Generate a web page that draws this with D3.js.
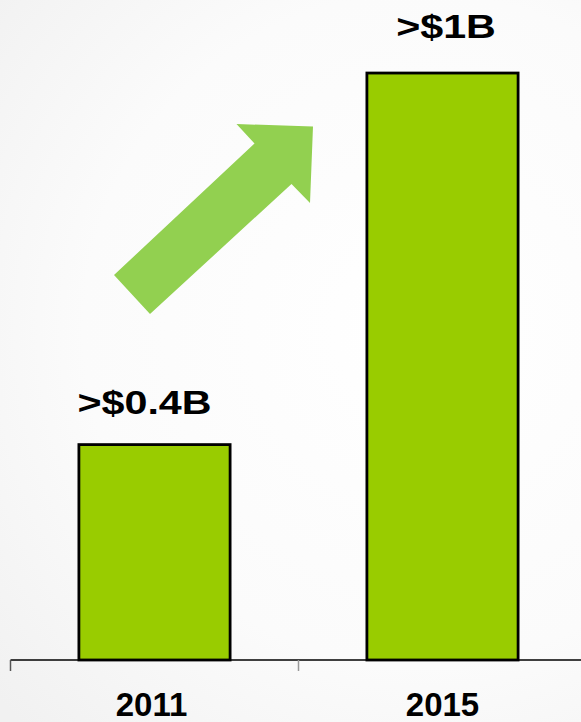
<!DOCTYPE html>
<html>
<head>
<meta charset="utf-8">
<script src="https://cdn.jsdelivr.net/npm/d3@7"></script>
<style>
  html, body { margin: 0; padding: 0; background: #f7f7f7; }
  svg { display: block; }
</style>
</head>
<body>
<div class="container"></div>
<script>
// chart data
const years = ['2011', '2015'];
const revenue = [0.4, 1.09];          // billions of dollars
const valueLabels = ['>$0.4B', '>$1B'];

const width = 581;
const height = 722;
const axisY = 660;

const svg = d3.select('.container').append('svg')
  .attr('width', width)
  .attr('height', height);

// soft background glow
const defs = svg.append('defs');
const grad = defs.append('radialGradient')
  .attr('id', 'bg')
  .attr('gradientUnits', 'userSpaceOnUse')
  .attr('cx', 420).attr('cy', 330).attr('r', 560);
grad.append('stop').attr('offset', '0%').attr('stop-color', '#ffffff');
grad.append('stop').attr('offset', '60%').attr('stop-color', '#fbfbfb');
grad.append('stop').attr('offset', '100%').attr('stop-color', '#f1f1f1');
svg.append('rect')
  .attr('width', width)
  .attr('height', height)
  .attr('fill', 'url(#bg)');

// scales
const x = d3.scaleBand()
  .domain(years)
  .range([10.5, 586.5])
  .padding(0);

const y = d3.scaleLinear()
  .domain([0, 1.2])
  .range([axisY, axisY - 1.2 * 538.5]);

const barW = x.bandwidth() * 0.525;

// growth arrow (decoration)
svg.append('polygon')
  .attr('points', [
    [114, 275], [254.5, 143.5], [236.5, 124], [313, 126.5],
    [310, 203], [291.5, 184], [150, 314]
  ].map(p => p.join(',')).join(' '))
  .attr('fill', '#92d050');

// bars
svg.selectAll('.bar')
  .data(years)
  .enter().append('rect')
  .attr('class', 'bar')
  .attr('x', (d) => x(d) + (x.bandwidth() - barW) / 2)
  .attr('y', (d, i) => y(revenue[i]))
  .attr('width', barW)
  .attr('height', (d, i) => axisY - y(revenue[i]))
  .attr('fill', '#99cc00')
  .attr('stroke', '#000')
  .attr('stroke-width', 2.8);

// value labels above bars
const labelDx = [-10, 3.5];
const labelGap = [31, 35];
svg.selectAll('.value')
  .data(years)
  .enter().append('text')
  .attr('class', 'value')
  .attr('transform', (d, i) => {
    const cx = x(d) + x.bandwidth() / 2 + labelDx[i];
    const cy = y(revenue[i]) - labelGap[i];
    return `translate(${cx},${cy}) scale(1.25,1)`;
  })
  .attr('text-anchor', 'middle')
  .style('font-family', '"Liberation Sans", Arial, sans-serif')
  .style('font-weight', 'bold')
  .style('font-size', '33px')
  .attr('fill', '#000')
  .text((d, i) => valueLabels[i]);

// x axis: line with ticks at category boundaries
svg.append('line')
  .attr('x1', x.range()[0])
  .attr('x2', width)
  .attr('y1', axisY)
  .attr('y2', axisY)
  .attr('stroke', '#000')
  .attr('stroke-width', 1.5);

const tickXs = years.map(d => x(d));
svg.selectAll('.tick')
  .data(tickXs)
  .enter().append('line')
  .attr('class', 'tick')
  .attr('x1', d => d)
  .attr('x2', d => d)
  .attr('y1', axisY)
  .attr('y2', axisY + 11)
  .attr('stroke', (d, i) => i === 0 ? '#555' : '#999')
  .attr('stroke-width', 1.5);

svg.selectAll('.year')
  .data(years)
  .enter().append('text')
  .attr('class', 'year')
  .attr('x', d => x(d) + x.bandwidth() / 2 + (d === '2011' ? -3 : 0))
  .attr('y', 716)
  .attr('text-anchor', 'middle')
  .style('font-family', '"Liberation Sans", Arial, sans-serif')
  .style('font-weight', 'bold')
  .style('font-size', '33px')
  .attr('fill', '#000')
  .text(d => d);
</script>
</body>
</html>
